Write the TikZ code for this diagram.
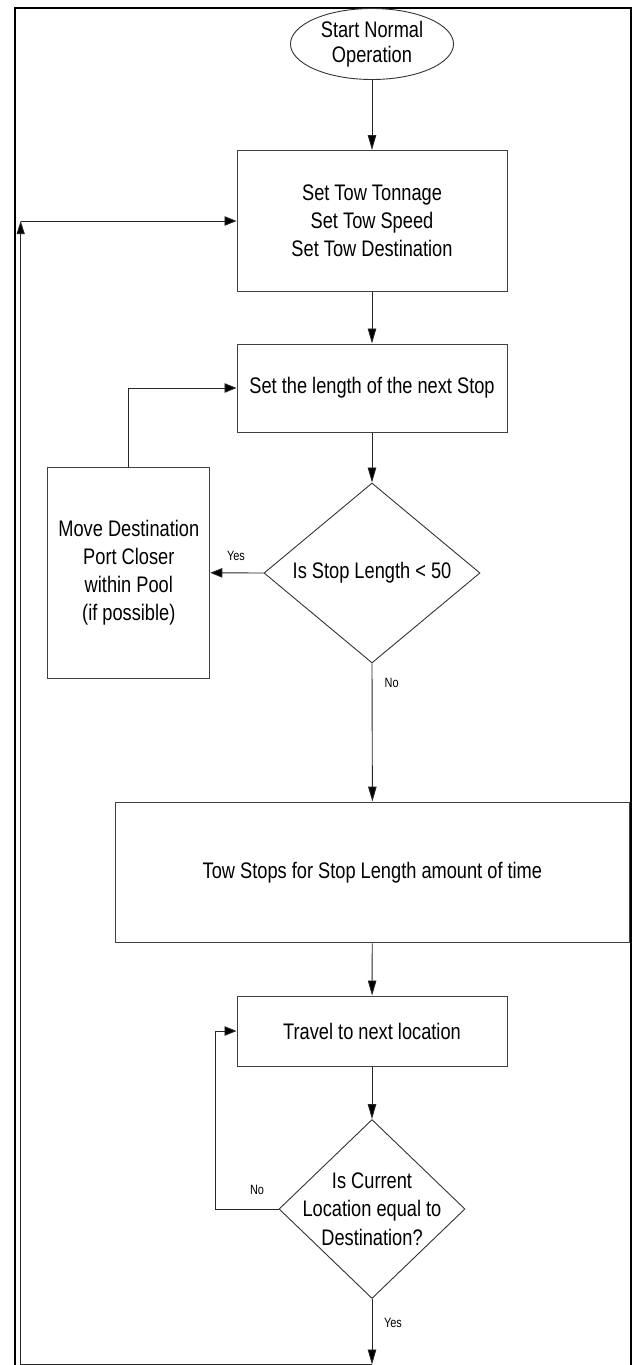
\documentclass[tikz,border=0pt]{standalone}
\usepackage{fontspec}
\setmainfont{Liberation Sans}[FakeStretch=0.81]
\usetikzlibrary{shapes.geometric,arrows.meta}
\begin{document}
\begin{tikzpicture}[x=1pt,y=-1pt,
  conn/.style={draw=black!85, line width=0.9pt},
  varr/.style={conn, -{Triangle[length=15pt,width=8.5pt,fill=black]}},
  harr/.style={conn, -{Triangle[length=12pt,width=9.5pt,fill=black]}},
  boxshape/.style={draw=black!75, line width=1pt, rectangle, inner sep=0pt, align=center,
    font=\fontsize{22.5}{28}\selectfont},
  termshape/.style={draw=black!80, line width=0.9pt, ellipse, inner sep=0pt, align=center,
    minimum width=163pt, minimum height=71pt, font=\fontsize{22.5}{25}\selectfont},
  decision/.style={draw=black!80, line width=0.9pt, diamond, inner sep=0pt},
  dtext/.style={align=center, inner sep=0pt, font=\fontsize{22.5}{28.5}\selectfont},
  lbl/.style={inner sep=0pt, anchor=base, font=\fontsize{13.5}{16}\selectfont},
  frame/.style={draw=black, line width=2pt}
]
\useasboundingbox (0,0) rectangle (633,1365);
% outer frame (its lower edge lies below the page)
\draw[frame] (14.5,7.5) rectangle (630.5,1380);

% nodes
\node[termshape] (start) at (372,44) {Start Normal\\Operation};
\node[boxshape, minimum width=270pt, minimum height=141pt] (set) at (372,221)
  {Set Tow Tonnage\\Set Tow Speed\\Set Tow Destination};
\node[boxshape, minimum width=270pt, minimum height=88pt] (len) at (372,388)
  {Set the length of the next Stop};
\node[decision, minimum width=216pt, minimum height=180pt,
  label={[dtext]center:Is Stop Length < 50}] (d1) at (372,573) {};
\node[boxshape, minimum width=162pt, minimum height=211pt] (move) at (128.8,572.8)
  {Move Destination\\Port Closer\\within Pool\\(if possible)};
\node[boxshape, minimum width=514.8pt, minimum height=140.7pt] (stop) at (372.4,872.4)
  {Tow Stops for Stop Length amount of time};
\node[boxshape, minimum width=270pt, minimum height=70pt] (travel) at (372,1031)
  {Travel to next location};
\node[decision, minimum width=186pt, minimum height=179pt,
  label={[dtext]center:Is Current\\Location equal to\\Destination?}] (d2) at (372,1209) {};

% free ends of the outer loop
\coordinate (yesend) at (372,1364.5);
\coordinate (bend) at (20.7,1364.5);
\coordinate (looptop) at (20.7,221);

% connectors
\draw[varr] (start) -- (set);
\draw[varr] (set) -- (len);
\draw[varr] (len) -- (d1);
\draw[harr] (d1.west) -- (move.east);
\draw[harr] (move.north) |- (len.west);
\draw[varr] (d1.south) -- (stop.north);
\draw[varr] (stop) -- (travel);
\draw[varr] (travel) -- (d2);
\draw[harr] (d2.west) -- ++(-62.8,0) |- (travel.west);
\draw[varr] (d2.south) -- (yesend);
\draw[conn] (yesend) -- (bend);
\draw[conn, -{Triangle[length=13pt,width=8pt,fill=black]}] (bend) -- (looptop);
\draw[harr] (looptop) -- (set.west);

% labels
\node[lbl] (lyes1) at (236,560) {Yes};
\node[lbl] (lno1) at (391.6,687.7) {No};
\node[lbl] (lno2) at (257,1194) {No};
\node[lbl] (lyes2) at (393,1327) {Yes};
\end{tikzpicture}
\end{document}
